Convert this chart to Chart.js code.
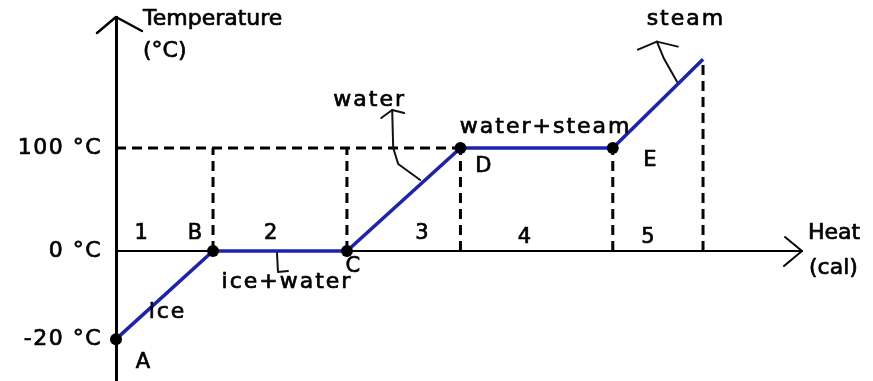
<!DOCTYPE html>
<html>
<head>
<meta charset="utf-8">
<script src="https://cdn.jsdelivr.net/npm/chart.js@4.4.1/dist/chart.umd.min.js"></script>
<style>
    html, body { margin: 0; padding: 0; background: #fff; }
    #wrap { width: 873px; height: 381px; position: relative; }
</style>
</head>
<body>
<div id="wrap"><canvas id="heatingCurve"></canvas></div>
<script>
// heating curve of water (heat in arbitrary units)
const pointNames = ['A', 'B', 'C', 'D', 'E', ''];
const heatValues = [0, 1, 2.38, 3.55, 5.12, 6.05];
const tempValues = [-20, 0, 0, 100, 100, 186];
const tempTicks = [-20, 0, 100];
const tempTickLabels = ['-20 \u00B0C', '0 \u00B0C', '100 \u00B0C'];
const stageNumbers = ['1', '2', '3', '4', '5'];
const phaseNames = ['ice', 'ice+water', 'water', 'water+steam', 'steam'];
const heatMax = 7.07;
const tempMin = -29.5;
const tempMax = 227;

const FONT = "'DejaVu Sans', sans-serif";

// the sketch is not to scale: below 0 degC it is stretched
class SplitScale extends Chart.LinearScale {
    getPixelForValue(value) {
        const share = this.options.lowerShare;
        let dec;
        if (value < 0) {
            dec = share * (value - this.min) / (0 - this.min);
        } else {
            dec = share + (1 - share) * value / this.max;
        }
        return this.getPixelForDecimal(dec);
    }
    getValueForPixel(pixel) {
        const share = this.options.lowerShare;
        const dec = this.getDecimalForPixel(pixel);
        if (dec < share) {
            return this.min + dec / share * (0 - this.min);
        }
        return (dec - share) / (1 - share) * this.max;
    }
}
SplitScale.id = 'split';
SplitScale.defaults = Chart.LinearScale.defaults;
Chart.register(SplitScale);

function polyline(ctx, pts) {
    ctx.beginPath();
    ctx.moveTo(pts[0][0], pts[0][1]);
    for (let i = 1; i < pts.length; i++) {
        ctx.lineTo(pts[i][0], pts[i][1]);
    }
    ctx.stroke();
}

// marker-pen look: fill plus a thin outline
function penText(ctx, text, x, y) {
    ctx.fillText(text, x, y);
    ctx.strokeText(text, x, y);
}

const sketchAxes = {
    id: 'sketchAxes',
    beforeDatasetsDraw: function (chart) {
        const { ctx, chartArea, scales: { x, y } } = chart;
        const y0 = y.getPixelForValue(0);
        ctx.save();
        ctx.strokeStyle = '#000';
        ctx.lineCap = 'round';
        ctx.lineJoin = 'round';

        // heat axis sits on 0 degC
        ctx.lineWidth = 2;
        polyline(ctx, [[chartArea.left, y0], [chartArea.right, y0]]);
        // arrow heads
        const tipX = chartArea.right;
        polyline(ctx, [[tipX - 17, y0 - 14], [tipX, y0], [tipX - 18, y0 + 15]]);
        const topX = x.getPixelForValue(0);
        ctx.lineWidth = 2.5;
        polyline(ctx, [[topX - 19, chartArea.top + 16], [topX, chartArea.top], [topX + 26, chartArea.top + 14]]);

        ctx.fillStyle = '#000';
        ctx.lineWidth = 0.7;
        ctx.textBaseline = 'middle';

        // temperature tick labels
        ctx.font = '22px ' + FONT;
        ctx.letterSpacing = '1.5px';
        ctx.textAlign = 'right';
        tempTicks.forEach((v, i) => {
            penText(ctx, tempTickLabels[i], topX - 14, y.getPixelForValue(v));
        });

        // axis titles
        ctx.font = '22px ' + FONT;
        ctx.letterSpacing = '0px';
        ctx.textAlign = 'left';
        penText(ctx, 'Temperature', topX + 27, chartArea.top + 2);
        penText(ctx, '(\u00B0C)', topX + 27, chartArea.top + 34);
        penText(ctx, 'Heat', tipX + 6, y0 - 18);
        penText(ctx, '(cal)', tipX + 7, y0 + 17);
        ctx.restore();
    },
    afterDatasetsDraw: function (chart) {
        const { ctx, scales: { x, y } } = chart;
        const px = heatValues.map(v => x.getPixelForValue(v));
        const py = tempValues.map(v => y.getPixelForValue(v));

        ctx.save();
        ctx.fillStyle = '#000';
        ctx.strokeStyle = '#000';
        ctx.lineWidth = 0.7;
        ctx.textAlign = 'center';
        ctx.textBaseline = 'middle';

        // point letters
        const letterOffsets = [[27, 23], [-18, -18], [6, 15], [23, 19], [37, 13]];
        ctx.font = '21px ' + FONT;
        pointNames.forEach((name, i) => {
            if (!name) return;
            penText(ctx, name, px[i] + letterOffsets[i][0], py[i] + letterOffsets[i][1]);
        });

        // stage numbers along the heat axis
        const stageFrac = [0.26, 0.43, 0.66, 0.42, 0.39];
        const stageDy = [-18, -18, -18, -14, -14];
        const y0 = y.getPixelForValue(0);
        stageNumbers.forEach((num, i) => {
            const sx = px[i] + (px[i + 1] - px[i]) * stageFrac[i];
            penText(ctx, num, sx, y0 + stageDy[i]);
        });

        // phase names with their pointers
        const mids = phaseNames.map((n, i) => [(px[i] + px[i + 1]) / 2, (py[i] + py[i + 1]) / 2]);
        const phaseOffsets = [[2, 17], [6, 31], [-35, -99], [8, -21], [27, -84]];
        ctx.font = '22px ' + FONT;
        ctx.letterSpacing = '2px';
        phaseNames.forEach((name, i) => {
            penText(ctx, name, mids[i][0] + phaseOffsets[i][0] + 1, mids[i][1] + phaseOffsets[i][1]);
        });
        ctx.letterSpacing = '0px';

        ctx.strokeStyle = '#111';
        ctx.lineWidth = 2;
        ctx.lineCap = 'round';
        ctx.lineJoin = 'round';
        const rel = (m, pts) => pts.map(p => [m[0] + p[0], m[1] + p[1]]);
        // ice+water hook
        polyline(ctx, rel(mids[1], [[-3, 2], [-2, 21], [8, 20]]));
        // water pointer
        polyline(ctx, rel(mids[2], [[16.5, -19.5], [-5.5, -35.5], [-10.5, -51.5], [-11.5, -89.5]]));
        polyline(ctx, rel(mids[2], [[-22.5, -81.5], [-11.5, -89.5], [0.5, -86.5]]));
        // steam pointer
        polyline(ctx, rel(mids[4], [[19, -22], [6, -45], [-1, -62]]));
        polyline(ctx, rel(mids[4], [[-20, -54], [-1, -62], [20, -57]]));
        ctx.restore();
    }
};

function dashedSegment(x1, y1, x2, y2) {
    return {
        data: [{ x: x1, y: y1 }, { x: x2, y: y2 }],
        borderColor: '#000',
        borderWidth: 3,
        borderDash: [10, 6],
        pointRadius: 0,
        tension: 0,
        clip: false
    };
}

let datasets = [{
    label: 'heating curve',
    data: heatValues.map((h, i) => ({ x: h, y: tempValues[i] })),
    borderColor: '#1e22b0',
    borderWidth: 3.5,
    pointRadius: pointNames.map(n => n ? 6 : 0),
    pointBackgroundColor: '#000',
    pointBorderWidth: 0,
    tension: 0,
    clip: false
}];
// 100 degC guide up to D
datasets.push(dashedSegment(0, 100, heatValues[3], 100));
// drop lines from each turning point
for (let i = 1; i < heatValues.length; i++) {
    datasets.push(dashedSegment(heatValues[i], 0, heatValues[i], Math.max(tempValues[i], 100)));
}

new Chart(document.getElementById('heatingCurve').getContext('2d'), {
    type: 'line',
    data: { datasets: datasets },
    plugins: [sketchAxes],
    options: {
        responsive: true,
        maintainAspectRatio: false,
        animation: false,
        layout: {
            autoPadding: false,
            padding: { left: 0, top: 17, right: 71, bottom: 0 }
        },
        plugins: {
            legend: { display: false },
            tooltip: { enabled: false }
        },
        scales: {
            x: {
                type: 'linear',
                min: 0,
                max: heatMax,
                display: false
            },
            y: {
                type: 'split',
                min: tempMin,
                max: tempMax,
                bounds: 'data',
                lowerShare: 0.357,
                afterFit: function (scale) {
                    scale.width = 116;
                    scale.paddingTop = 0;
                    scale.paddingBottom = 0;
                },
                afterBuildTicks: function (scale) {
                    scale.ticks = tempTicks.map(v => ({ value: v }));
                },
                ticks: { display: false },
                grid: { display: false, drawTicks: false },
                border: { display: true, color: '#000', width: 3 }
            }
        }
    }
});
</script>
</body>
</html>
